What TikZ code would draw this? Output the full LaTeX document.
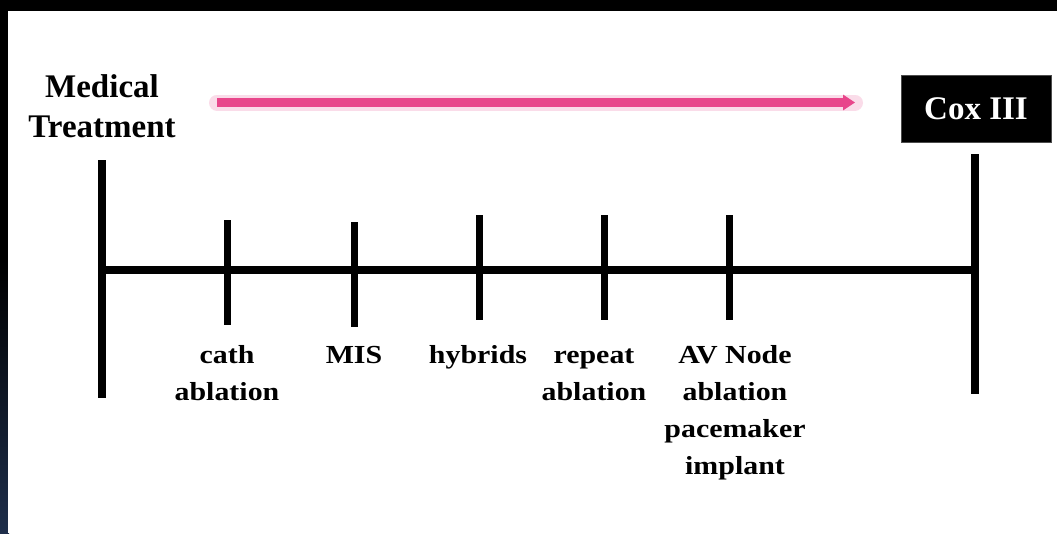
\documentclass[tikz,border=0pt]{standalone}
\usepackage{fontspec}
\setmainfont{Liberation Serif}
\newfontfamily\lblfont[FakeStretch=1.15]{Liberation Serif}
\usetikzlibrary{arrows.meta}
\definecolor{pinkarrow}{HTML}{E8468B}
\definecolor{glowpink}{HTML}{F6B3CF}
\definecolor{navyedge}{HTML}{1E2E4A}
\begin{document}
\begin{tikzpicture}[x=1pt,y=-1pt,
  axisline/.style={line width=7.5pt},
  tickline/.style={line width=7pt},
  lbl/.style={font=\lblfont\bfseries\fontsize{26}{37}\selectfont, align=center, anchor=base, inner sep=0pt},
  titletext/.style={font=\bfseries\fontsize{33}{40}\selectfont, align=center, anchor=base, inner sep=0pt},
  coxbox/.style={fill=black, text=white, font=\bfseries\fontsize{33}{40}\selectfont, minimum width=150pt, minimum height=67pt, inner sep=0pt, draw=black!70, line width=0.6pt},
  glow/.style={line width=16pt, glowpink, opacity=0.45},
  pinkline/.style={line width=9pt, pinkarrow, -{Triangle[length=12pt,width=15pt]}}
]
\useasboundingbox (0,0) rectangle (1057,533);
% background
\fill[black] (0,0) rectangle (1057,533);
\shade[top color=black, bottom color=navyedge] (0,260) rectangle (9,533);
\fill[white] (8,11) rectangle (1057,533);

% titles
\node[titletext] (med) at (102,137) {Medical\\Treatment};
\node[coxbox] (cox) at (976,108.5) {\raisebox{-2pt}{Cox III}};

% pink arrow
\coordinate (arrS) at (217,102.5);
\coordinate (arrE) at (855,102.5);
\draw[glow, line cap=round] (arrS) -- (arrE);
\draw[pinkline] (arrS) -- (arrE);

% main axis
\coordinate (Ltop) at (102,160);
\coordinate (Lbot) at (102,398);
\coordinate (Rtop) at (975,154);
\coordinate (Rbot) at (975,394);
\coordinate (Amid) at (102,270);
\coordinate (Bmid) at (975,270);
\draw[axisline] (Ltop) -- (Lbot);
\draw[axisline] (Rtop) -- (Rbot);
\draw[axisline] (Amid) -- (Bmid);

% ticks
\coordinate (t1a) at (227,220); \coordinate (t1b) at (227,325);
\coordinate (t2a) at (354,222); \coordinate (t2b) at (354,327);
\coordinate (t3a) at (479,215); \coordinate (t3b) at (479,320);
\coordinate (t4a) at (604,215); \coordinate (t4b) at (604,320);
\coordinate (t5a) at (729,215); \coordinate (t5b) at (729,320);
\draw[tickline] (t1a) -- (t1b);
\draw[tickline] (t2a) -- (t2b);
\draw[tickline] (t3a) -- (t3b);
\draw[tickline] (t4a) -- (t4b);
\draw[tickline] (t5a) -- (t5b);

% labels (anchor base = baseline of the last line)
\node[lbl] (l1) at (227,400) {cath\\ablation};
\node[lbl] (l2) at (354,363) {MIS};
\node[lbl] (l3) at (478,363) {hybrids};
\node[lbl] (l4) at (594,400) {repeat\\ablation};
\node[lbl] (l5) at (735,474) {AV Node\\ablation\\pacemaker\\implant};
\end{tikzpicture}
\end{document}
